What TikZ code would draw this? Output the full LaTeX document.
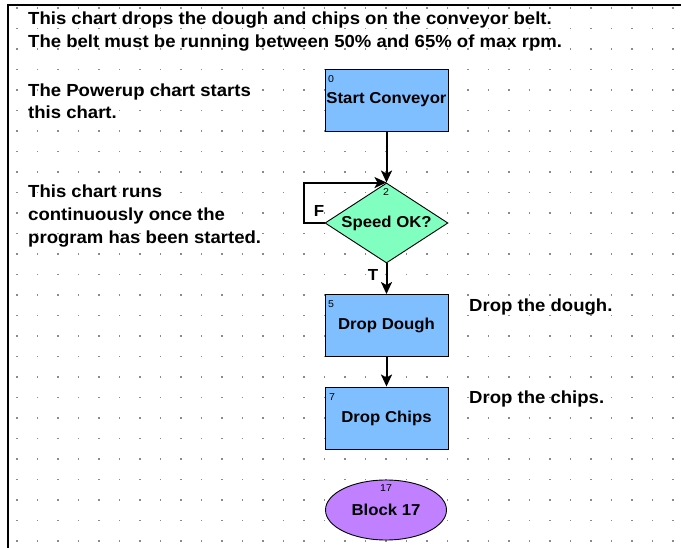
\documentclass[tikz,border=0pt]{standalone}
\usepackage{fontspec}
\setmainfont{Liberation Sans}[FakeStretch=1.06]
\usetikzlibrary{shapes.geometric,arrows.meta}
\definecolor{blockblue}{HTML}{80BFFF}
\definecolor{condgreen}{HTML}{80FFC0}
\definecolor{endpurple}{HTML}{C080FF}
\definecolor{dotgray}{HTML}{8A8A8A}
\tikzset{
  note/.style={anchor=base west, inner sep=0pt, font=\fontsize{17.5}{22}\selectfont\bfseries},
  action/.style={draw=black, line width=0.9pt, fill=blockblue, minimum width=123pt,
    minimum height=62pt, inner sep=0pt, font=\fontsize{15.8}{18}\selectfont\bfseries},
  cond/.style={diamond, draw=black, line width=0.9pt, fill=condgreen, minimum width=123pt,
    minimum height=80pt, aspect=1.54, inner sep=0pt, font=\fontsize{15.8}{18}\selectfont\bfseries},
  endblk/.style={ellipse, draw=black, line width=0.9pt, fill=endpurple, minimum width=121pt,
    minimum height=60pt, inner sep=0pt, font=\fontsize{15.8}{18}\selectfont\bfseries},
  blknum/.style={inner sep=0pt, font=\fontsize{10}{11}\selectfont},
  branch/.style={inner sep=0pt, font=\fontsize{16}{17}\selectfont\bfseries},
  flow/.style={line width=2pt, -{Stealth[length=12pt,width=11pt,inset=3pt]}},
}
\begin{document}
\begin{tikzpicture}[x=1pt,y=-1pt]
\useasboundingbox (0,0) rectangle (681,548);
\fill[white] (0,0) rectangle (681,548);
% snap grid
\foreach \i in {0,...,32}
  \foreach \j in {0,...,26}
    \fill[dotgray] ({17+20.5*\i-0.75},{8+20.5*\j-0.75}) rectangle ++(1.5,1.5);
% window frame
\draw[line width=2.8pt] (8,548) -- (8,5) -- (681,5);

% comments
\node[note] (n1) at (28,25) {This chart drops the dough and chips on the conveyor belt.};
\node[note] (n2) at (28,48) {The belt must be running between 50\% and 65\% of max rpm.};
\node[note] (n3) at (28,97) {The Powerup chart starts};
\node[note] (n4) at (28,119) {this chart.};
\node[note] (n5) at (28,198) {This chart runs};
\node[note] (n6) at (28,221) {continuously once the};
\node[note] (n7) at (28,244) {program has been started.};
\node[note] (n8) at (469,312) {Drop the dough.};
\node[note] (n9) at (469,404) {Drop the chips.};

% blocks
\node[action] (start) at (386.5,100) {Start Conveyor};
\node[cond] (speed) at (386.5,223) {Speed OK?};
\node[action] (dough) at (386.5,325.5) {Drop Dough};
\node[action] (chips) at (386.5,418) {Drop Chips};
\node[endblk] (b17) at (386,510) {Block 17};

% block numbers
\node[blknum, anchor=north west] (k0) at (328,75) {0};
\node[blknum, anchor=north] (k2) at (386,188) {2};
\node[blknum, anchor=north west] (k5) at (328,300) {5};
\node[blknum, anchor=north west] (k7) at (329,393) {7};
\node[blknum, anchor=north] (k17) at (386,484) {17};

% connectors
\draw[flow] (start) -- (speed.north);
\draw[flow] (speed.west) -- ++(-21,0) |- (speed.north);
\draw[flow] (speed.south) -- (dough.north);
\draw[flow] (dough) -- (chips);

\node[branch] (lf) at (319,211) {F};
\node[branch] (lt) at (373,275) {T};
\end{tikzpicture}
\end{document}
